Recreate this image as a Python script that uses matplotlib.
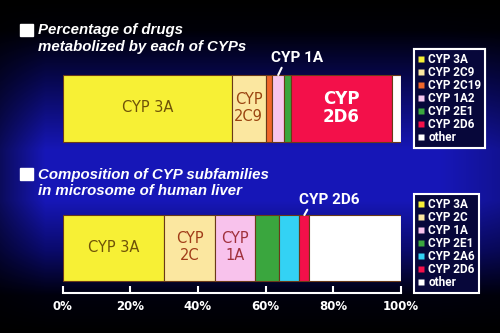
import numpy as np
import matplotlib
matplotlib.use("Agg")
import matplotlib.pyplot as plt
from matplotlib.lines import Line2D
from matplotlib.patches import Rectangle

### data ###
drug_names = ['CYP 3A', 'CYP 2C9', 'CYP 2C19', 'CYP 1A2', 'CYP 2E1', 'CYP 2D6', 'other']
drug_pct = [50, 10, 2, 3.5, 2, 30, 2.5]
drug_colors = ['#f7f035', '#fbe7a0', '#f0672a', '#f7c6ee', '#3aa63e', '#f3104a', '#ffffff']

liver_names = ['CYP 3A', 'CYP 2C', 'CYP 1A', 'CYP 2E1', 'CYP 2A6', 'CYP 2D6', 'other']
liver_pct = [30, 15, 12, 7, 6, 3, 27]
liver_colors = ['#f7f035', '#fbe7a0', '#f8c2ec', '#3aa63e', '#33d2f4', '#f3104a', '#ffffff']

ticks = [0, 20, 40, 60, 80, 100]
tick_labels = ['0%', '20%', '40%', '60%', '80%', '100%']

W, H = 500, 333
fig = plt.figure(figsize=(5, 3.33), dpi=100)

### background gradient ###
bg = fig.add_axes([0, 0, 1, 1])
rows = np.arange(H)
yp = [0, 30, 80, 150, 200, 250, 295, 333]
bp = [0.0, 0.03, 0.32, 0.72, 0.72, 0.42, 0.05, 0.0]
rp = [0.0, 0.0, 0.03, 0.09, 0.09, 0.04, 0.0, 0.0]
blue = np.interp(rows, yp, bp)
red = np.interp(rows, yp, rp)
cols = np.arange(W)
vign = np.interp(cols, [0, 45, 440, 500], [0.5, 1.0, 1.0, 0.8])
img = np.zeros((H, W, 3))
img[:, :, 0] = red[:, None] * vign[None, :]
img[:, :, 1] = red[:, None] * vign[None, :]
img[:, :, 2] = blue[:, None] * vign[None, :]
bg.imshow(img, aspect='auto', extent=[0, 1, 0, 1])
bg.axis('off')

### main axes: x in percent, y in pixel rows ###
ax = fig.add_axes([62.7 / W, 0, 338 / W, 1])
ax.set_facecolor('none')
ax.set_xlim(0, 100)
ax.set_ylim(H, 0)


def draw_bar(vals, colors, yc, h):
    lefts = np.concatenate([[0], np.cumsum(vals)[:-1]])
    ax.barh(yc, vals, left=lefts, height=h, color=colors,
            edgecolor='#6a3a18', linewidth=0.8)
    return lefts + np.array(vals) / 2


c1 = draw_bar(drug_pct, drug_colors, 108.3, 66.7)
c2 = draw_bar(liver_pct, liver_colors, 247.8, 65.7)

# labels in the segments
ax.text(c1[0], 108, 'CYP 3A', color='#6e5208', fontsize=10.5, ha='center', va='center')
ax.text(c1[1], 108, 'CYP\n2C9', color='#9a4410', fontsize=10.5, ha='center', va='center',
        linespacing=1.1)
ax.text(c1[5], 108, 'CYP\n2D6', color='white', fontsize=12, fontweight='bold',
        ha='center', va='center', linespacing=1.05)
ax.text(c2[0], 247, 'CYP 3A', color='#6e5208', fontsize=10.5, ha='center', va='center')
ax.text(c2[1], 247, 'CYP\n2C', color='#a03c18', fontsize=10.5, ha='center', va='center',
        linespacing=1.1)
ax.text(c2[2], 247, 'CYP\n1A', color='#a0303c', fontsize=10.5, ha='center', va='center',
        linespacing=1.1)

# call-outs for thin segments
ax.annotate('CYP 1A', xy=(c1[3], 75), xytext=(c1[3] + 5.5, 58), color='white',
            fontsize=11, family='Roboto', fontweight='bold', ha='center', va='center',
            arrowprops=dict(arrowstyle='-', color='white', lw=1.5,
                            relpos=(0.3, 0.5), shrinkA=6, shrinkB=0))
ax.annotate('CYP 2D6', xy=(c2[5], 215), xytext=(c2[5] + 7.5, 200), color='white',
            fontsize=11, family='Roboto', fontweight='bold', ha='center', va='center',
            arrowprops=dict(arrowstyle='-', color='white', lw=1.5,
                            relpos=(0.22, 0.5), shrinkA=6, shrinkB=0))

# percent axis
for s in ['top', 'left', 'right']:
    ax.spines[s].set_visible(False)
ax.spines['bottom'].set_position(('data', 293))
ax.spines['bottom'].set_color('white')
ax.spines['bottom'].set_linewidth(1.5)
ax.set_yticks([])
ax.set_xticks(ticks)
ax.set_xticklabels(tick_labels)
ax.tick_params(axis='x', direction='in', length=5, width=1.5, color='white',
               labelcolor='white', labelsize=8.5, pad=5)
for t in ax.get_xticklabels():
    t.set_fontweight('bold')

### titles ###
fig.text(38 / W, 1 - 38.5 / H, 'Percentage of drugs\nmetabolized by each of CYPs',
         color='white', fontsize=10.8, fontweight='bold', style='italic',
         family='Liberation Sans', va='center', ha='left', linespacing=1.25)
fig.text(38 / W, 1 - 183 / H, 'Composition of CYP subfamilies\nin microsome of human liver',
         color='white', fontsize=10.8, fontweight='bold', style='italic',
         family='Liberation Sans', va='center', ha='left', linespacing=1.25)
for yb in [29.5, 173.5]:
    fig.patches.append(Rectangle((20 / W, 1 - (yb + 6) / H), 12.5 / W, 11.5 / H,
                                 transform=fig.transFigure, color='white'))

### legends ###
def legend(names, colors, top_px):
    handles = [Line2D([], [], marker='s', markersize=4.5, ls='none', color=c,
                      markeredgecolor='none') for c in colors]
    lg = fig.legend(handles, names, loc='upper left',
                    bbox_to_anchor=(414 / W, 1 - top_px / H),
                    prop={'family': 'Roboto', 'weight': 'bold', 'size': 8.5},
                    frameon=True, fancybox=False, borderpad=0.35,
                    handlelength=0.5, handletextpad=0.35, labelspacing=0.0,
                    borderaxespad=0)
    fr = lg.get_frame()
    fr.set_edgecolor('white')
    fr.set_linewidth(1.5)
    fr.set_facecolor('#07073a')
    fr.set_alpha(1)
    for t in lg.get_texts():
        t.set_color('white')
    return lg


lg1 = legend(drug_names, drug_colors, 49)
fig.add_artist(lg1)
legend(liver_names, liver_colors, 194)

fig.savefig('out.png', dpi=100, facecolor='black')
